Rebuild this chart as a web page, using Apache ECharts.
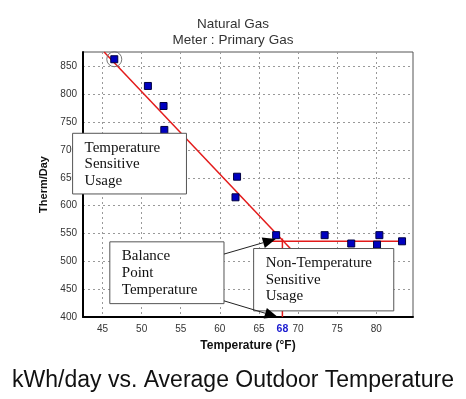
<!DOCTYPE html>
<html lang="en">
<head>
<meta charset="UTF-8">
<title>Natural Gas - Meter : Primary Gas</title>
<script src="https://cdn.jsdelivr.net/npm/echarts@6.0.0/dist/echarts.min.js"></script>
<style>
    html, body { margin: 0; padding: 0; background: #fff; }
    #main { width: 466px; height: 399px; }
</style>
</head>
<body>
<div id="main"></div>
<script>
    // daily readings: outdoor temperature (°F) vs therm/day
    var temps = [46.5, 50.8, 52.8, 52.9, 62.2, 62.0, 67.2, 73.4, 76.8, 80.1, 80.4, 83.3];
    var therms = [863, 815, 779, 736, 652, 615, 547, 547, 532, 530, 547, 536];
    var circled = [[46.5, 863]];

    var xTicks = [45, 50, 55, 60, 65, 70, 75, 80];
    var yTicks = [400, 450, 500, 550, 600, 650, 700, 750, 800, 850];
    var balanceTemp = 68;

    // fitted lines
    var slopeLine = [[45.2, 876], [69.5, 516]];
    var baseLine = [[65.9, 536], [83.8, 536]];
    var balanceLine = [[68, 400], [68, 541]];

    // note boxes, corners in data units
    var notes = [
        { lines: ['Temperature', 'Sensitive', 'Usage'], from: [41.17, 730], to: [55.73, 621] },
        { lines: ['Balance', 'Point', 'Temperature'], from: [45.93, 535], to: [60.53, 424] },
        { lines: ['Non-Temperature', 'Sensitive', 'Usage'], from: [64.32, 523], to: [82.24, 411] }
    ];
    var arrows = [
        { from: [60.53, 513], to: [67.15, 540] },
        { from: [60.53, 429], to: [67.4, 400] }
    ];

    var points = temps.map(function (t, i) { return [t, therms[i]]; });

    var chart = echarts.init(document.getElementById('main'));

    var option = {
        animation: false,
        backgroundColor: '#fff',
        title: [{
            text: 'Natural Gas\nMeter : Primary Gas',
            left: 'center',
            top: 16,
            padding: 0,
            textStyle: { fontFamily: 'Liberation Sans', fontSize: 13.5, fontWeight: 'normal', color: '#333', lineHeight: 16 }
        }, {
            text: 'kWh/day vs. Average Outdoor Temperature',
            left: 'center',
            top: 369,
            padding: 0,
            textStyle: { fontFamily: 'Liberation Sans', fontSize: 23, fontWeight: 'normal', color: '#111' }
        }],
        grid: {
            left: 83, right: 53, top: 52, bottom: 82,
            show: true, borderColor: '#555', borderWidth: 1
        },
        xAxis: {
            type: 'value',
            min: 42.5, max: 84.7,
            name: 'Temperature (°F)',
            nameLocation: 'middle',
            nameGap: 20,
            nameTextStyle: { fontFamily: 'Liberation Sans', fontSize: 12, fontWeight: 'bold', color: '#111' },
            axisLine: { lineStyle: { color: '#000', width: 2 } },
            axisTick: { show: false, customValues: xTicks },
            axisLabel: {
                customValues: xTicks.concat([balanceTemp]),
                margin: 7,
                fontFamily: 'Liberation Sans', fontSize: 10, color: '#333',
                formatter: function (v) { return v === balanceTemp ? '{b|' + v + '}' : String(v); },
                rich: { b: { color: '#1a1ad0', fontWeight: 'bold', fontSize: 10.5, fontFamily: 'Liberation Sans' } }
            },
            splitLine: { show: true, lineStyle: { color: '#999', type: [2, 3], width: 1 } }
        },
        yAxis: {
            type: 'value',
            min: 400, max: 876,
            name: 'Therm/Day',
            nameLocation: 'middle',
            nameGap: 26,
            nameTextStyle: { fontFamily: 'Liberation Sans', fontSize: 11, fontWeight: 'bold', color: '#111' },
            axisLine: { show: true, lineStyle: { color: '#000', width: 2 } },
            axisTick: { show: false, customValues: yTicks },
            axisLabel: { customValues: yTicks, margin: 6, fontFamily: 'Liberation Sans', fontSize: 10, color: '#333' },
            splitLine: { show: true, lineStyle: { color: '#999', type: [2, 3], width: 1 } }
        },
        series: [{
            type: 'line', data: slopeLine, symbol: 'none', z: 3,
            lineStyle: { color: '#e31b1b', width: 1.5 }
        }, {
            type: 'line', data: baseLine, symbol: 'none', z: 3,
            lineStyle: { color: '#e31b1b', width: 1.5 }
        }, {
            type: 'line', data: balanceLine, symbol: 'none', z: 3,
            lineStyle: { color: '#e31b1b', width: 1.5 }
        }, {
            type: 'scatter', data: points, symbol: 'rect', symbolSize: 7, z: 4,
            itemStyle: { color: '#0000c0', borderColor: '#000040', borderWidth: 1, opacity: 1 }
        }, {
            type: 'scatter', data: circled, symbol: 'circle', symbolSize: 15, z: 5,
            itemStyle: { color: 'rgba(0,0,0,0)', borderColor: '#777', borderWidth: 1, opacity: 1 }
        }]
    };

    chart.setOption(option);

    // annotation boxes and arrows placed from data coordinates
    function px(p) { return chart.convertToPixel({ gridIndex: 0 }, p); }
    var graphics = [];
    notes.forEach(function (n) {
        var a = px(n.from), b = px(n.to);
        graphics.push({
            type: 'rect', z: 100,
            shape: { x: a[0], y: a[1], width: b[0] - a[0], height: b[1] - a[1] },
            style: { fill: '#fff', stroke: '#555', lineWidth: 1 }
        });
        graphics.push({
            type: 'text', z: 101,
            x: a[0] + 12, y: a[1] + 6,
            style: {
                text: n.lines.join('\n'),
                font: '15px "Liberation Serif"',
                lineHeight: 16.7,
                fill: '#111'
            }
        });
    });
    arrows.forEach(function (ar) {
        var s = px(ar.from), e = px(ar.to);
        var dx = e[0] - s[0], dy = e[1] - s[1];
        var len = Math.sqrt(dx * dx + dy * dy);
        var ux = dx / len, uy = dy / len;
        var hl = 13, hw = 5.5;
        var bx = e[0] - ux * hl, by = e[1] - uy * hl;
        graphics.push({
            type: 'line', z: 102,
            shape: { x1: s[0], y1: s[1], x2: bx, y2: by },
            style: { stroke: '#222', lineWidth: 1 }
        });
        graphics.push({
            type: 'polygon', z: 102,
            shape: { points: [[e[0], e[1]], [bx - uy * hw, by + ux * hw], [bx + uy * hw, by - ux * hw]] },
            style: { fill: '#000' }
        });
    });
    chart.setOption({ graphic: graphics });
</script>
</body>
</html>
